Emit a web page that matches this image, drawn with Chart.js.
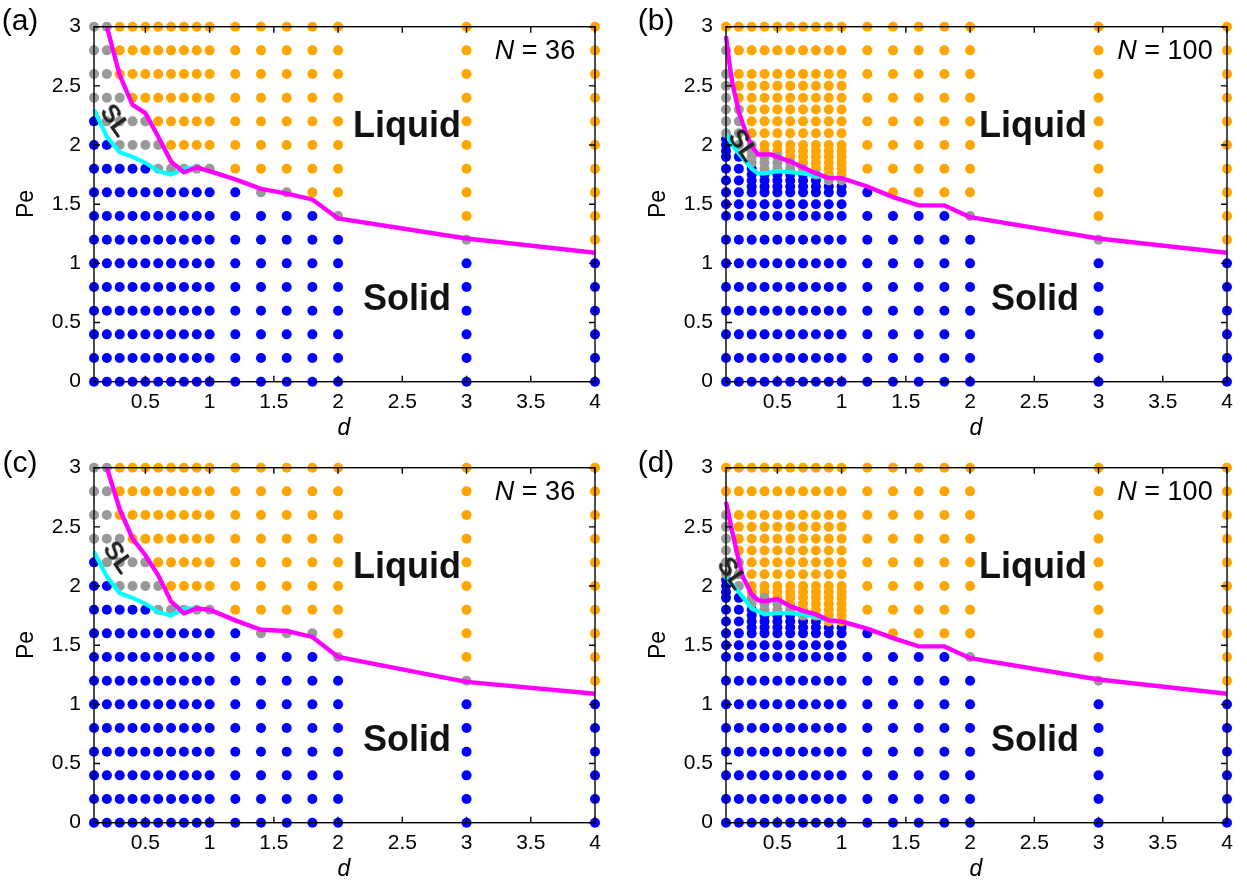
<!DOCTYPE html>
<html><head><meta charset="utf-8">
<script src="https://cdn.jsdelivr.net/npm/chart.js@4.4.1/dist/chart.umd.min.js"></script>
<style>
html,body{margin:0;padding:0;background:#fff;}
body{width:1247px;height:882px;position:relative;overflow:hidden;font-family:"Liberation Sans",Arial,sans-serif;}
.panel{position:absolute;width:620px;height:441px;}
.panel canvas{position:absolute;left:0;top:0;}
.t{position:absolute;white-space:nowrap;transform:translate(-50%,-50%);color:#000;line-height:1;z-index:5;}
.lab{font-size:30px;}
.big{font-size:36px;font-weight:bold;color:#111;}
.nn{font-size:27px;}
.ax{font-size:23px;}
.sl{font-size:26px;font-weight:bold;color:#222;}
</style></head><body>
<div class="panel" id="pa" style="left:0;top:0"><canvas id="ca" width="620" height="441"></canvas></div>
<div class="panel" id="pb" style="left:632px;top:0"><canvas id="cb" width="620" height="441"></canvas></div>
<div class="panel" id="pc" style="left:0;top:441px"><canvas id="cc" width="620" height="441"></canvas></div>
<div class="panel" id="pd" style="left:632px;top:441px"><canvas id="cd" width="620" height="441"></canvas></div>

<div class="t lab" style="left:20px;top:20px">(a)</div>
<div class="t lab" style="left:656px;top:20px">(b)</div>
<div class="t lab" style="left:20px;top:462px">(c)</div>
<div class="t lab" style="left:656px;top:462px">(d)</div>

<div class="t ax" style="left:25px;top:204px;transform:translate(-50%,-50%) rotate(-90deg)">Pe</div>
<div class="t ax" style="left:657px;top:204px;transform:translate(-50%,-50%) rotate(-90deg)">Pe</div>
<div class="t ax" style="left:25px;top:645px;transform:translate(-50%,-50%) rotate(-90deg)">Pe</div>
<div class="t ax" style="left:657px;top:645px;transform:translate(-50%,-50%) rotate(-90deg)">Pe</div>

<div class="t ax" style="left:344px;top:427px;font-style:italic">d</div>
<div class="t ax" style="left:976px;top:427px;font-style:italic">d</div>
<div class="t ax" style="left:344px;top:868px;font-style:italic">d</div>
<div class="t ax" style="left:976px;top:868px;font-style:italic">d</div>

<div class="t nn" style="left:535px;top:50px"><i>N</i> = 36</div>
<div class="t nn" style="left:1165px;top:50px"><i>N</i> = 100</div>
<div class="t nn" style="left:535px;top:491px"><i>N</i> = 36</div>
<div class="t nn" style="left:1165px;top:491px"><i>N</i> = 100</div>

<div class="t big" style="left:407px;top:125px">Liquid</div>
<div class="t big" style="left:407px;top:298px">Solid</div>
<div class="t big" style="left:1033px;top:125px">Liquid</div>
<div class="t big" style="left:1035px;top:298px">Solid</div>
<div class="t big" style="left:407px;top:566px">Liquid</div>
<div class="t big" style="left:407px;top:739px">Solid</div>
<div class="t big" style="left:1033px;top:566px">Liquid</div>
<div class="t big" style="left:1035px;top:739px">Solid</div>

<div class="t sl" style="left:116px;top:120px;transform:translate(-50%,-50%) rotate(55deg)">SL</div>
<div class="t sl" style="left:744px;top:145px;transform:translate(-50%,-50%) rotate(55deg)">SL</div>
<div class="t sl" style="left:119px;top:557px;transform:translate(-50%,-50%) rotate(55deg)">SL</div>
<div class="t sl" style="left:733px;top:573px;transform:translate(-50%,-50%) rotate(55deg)">SL</div>

<script>
// ---- grid of simulated points ----
const dCols = [0.1,0.2,0.3,0.4,0.5,0.6,0.7,0.8,0.9,1.0,1.2,1.4,1.6,1.8,2.0,3.0,4.0];
const peRows = [0,0.2,0.4,0.6,0.8,1.0,1.2,1.4,1.6,1.8,2.0,2.2,2.4,2.6,2.8,3.0];
const peRowsFine = [0,0.2,0.4,0.6,0.8,1.0,1.2,1.4,1.5,1.6,1.65,1.7,1.75,1.8,1.85,1.9,1.95,2.0,2.05,2.1,2.2,2.3,2.4,2.5,2.6,2.8,3.0];
const xTickLabels = [0.5,1,1.5,2,2.5,3,3.5,4];
const yTickLabels = [0,0.5,1,1.5,2,2.5,3];

// status per column (B = solid, G = solid-liquid, O = liquid, - = no run), rows from Pe=0 upward
const statusA = [
 "BBBBBBBBBBBBGGGG","BBBBBBBBBBBGGGGG","BBBBBBBBBBGGGOOO","BBBBBBBBBBGGOOOO","BBBBBBBBBBGGOOOO",
 "BBBBBBBBBGGOOOOO","BBBBBBBBBGOOOOOO","BBBBBBBBBGOOOOOO","BBBBBBBBBGOOOOOO","BBBBBBBBBGOOOOOO",
 "BBBBBBBBBOOOOOOO","BBBBBBBBGOOOOOOO","BBBBBBBBGOOOOOOO","BBBBBBBBOOOOOOOO","BBBBBBBGOOOOOOOO",
 "BBBBBBGOOOOOOOOO","BBBBBBOOOOOOOOOO"];
const statusC = [
 "BBBBBBBBBBBBGGGG","BBBBBBBBBBBGGGGG","BBBBBBBBBBGGGOOO","BBBBBBBBBBGGOOOO","BBBBBBBBBBGGOOOO",
 "BBBBBBBBBGGOOOOO","BBBBBBBBBGOOOOOO","BBBBBBBBBGOOOOOO","BBBBBBBBBGOOOOOO","BBBBBBBBBGOOOOOO",
 "BBBBBBBBBOOOOOOO","BBBBBBBBGOOOOOOO","BBBBBBBBGOOOOOOO","BBBBBBBBGOOOOOOO","BBBBBBBGOOOOOOOO",
 "BBBBBBGOOOOOOOOO","BBBBBBOOOOOOOOOO"];
// N = 100: columns d <= 1 use peRowsFine, the others use peRows
const statusB = [
 "BBBBBBBBBB-B-B-BBBBGGGGGGGO","BBBBBBBBBB-B-B-B-G-GGGOOOOO","BBBBBBBBBBBBBBGGGG-OOOOOOOO",
 "BBBBBBBBBBBBBGGGOO-OOOOOOOO","BBBBBBBBBBBBBGGGOO-OOOOOOOO","BBBBBBBBBBBBBGGOOO-OOOOOOOO",
 "BBBBBBBBBBBBBGOOOO-OOOOOOOO","BBBBBBBBBBBBGOOOOO-OOOOOOOO","BBBBBBBBBBBGOOOOOO-OOOOOOOO",
 "BBBBBBBBBBBGOOOOOO-OOOOOOOO",
 "BBBBBBBBBOOOOOOO","BBBBBBBBOOOOOOOO","BBBBBBBBOOOOOOOO","BBBBBBBBOOOOOOOO","BBBBBBBGOOOOOOOO",
 "BBBBBBGOOOOOOOOO","BBBBBBOOOOOOOOOO"];
const statusD = [
 "BBBBBBBBBB-B-B-BBBBGGGGGGOO","BBBBBBBBBB-B-B-B-G-GGOOOOOO","BBBBBBBBBBBBBBGGOO-OOOOOOOO",
 "BBBBBBBBBBBBBGGGOO-OOOOOOOO","BBBBBBBBBBBBBGGOOO-OOOOOOOO","BBBBBBBBBBBBBGOOOO-OOOOOOOO",
 "BBBBBBBBBBBBGOOOOO-OOOOOOOO","BBBBBBBBBBBBOOOOOO-OOOOOOOO","BBBBBBBBBBBOOOOOOO-OOOOOOOO",
 "BBBBBBBBBBBOOOOOOO-OOOOOOOO",
 "BBBBBBBBBOOOOOOO","BBBBBBBBOOOOOOOO","BBBBBBBBOOOOOOOO","BBBBBBBBOOOOOOOO","BBBBBBBGOOOOOOOO",
 "BBBBBBGOOOOOOOOO","BBBBBBOOOOOOOOOO"];

// ---- boundary lines ----
const magA_d  = [0.2,0.3,0.4,0.5,0.6,0.7,0.8,0.9,1.0,1.2,1.4,1.6,1.8,2.0,3.0,4.0];
const magA_pe = [3.0,2.59,2.34,2.27,2.07,1.86,1.77,1.81,1.78,1.71,1.63,1.59,1.54,1.38,1.21,1.09];
const cyaA_d  = [0.1,0.2,0.3,0.4,0.5,0.6,0.7,0.8,0.9];
const cyaA_pe = [2.30,2.07,1.94,1.90,1.85,1.78,1.75,1.80,1.81];
const magC_d  = [0.2,0.3,0.4,0.5,0.6,0.7,0.8,0.9,1.0,1.2,1.4,1.6,1.8,2.0,3.0,4.0];
const magC_pe = [3.0,2.65,2.40,2.26,2.09,1.87,1.77,1.81,1.80,1.71,1.63,1.62,1.57,1.40,1.19,1.09];
const cyaC_d  = [0.1,0.2,0.3,0.4,0.5,0.6,0.7,0.8,0.9];
const cyaC_pe = [2.29,2.08,1.94,1.90,1.85,1.78,1.75,1.81,1.81];
const magB_d  = [0.1,0.125,0.15,0.2,0.25,0.3,0.35,0.45,0.5,0.6,0.7,0.8,0.9,1.0,1.2,1.4,1.6,1.8,2.0,3.0,4.0];
const magB_pe = [2.92,2.70,2.52,2.28,2.12,1.99,1.92,1.92,1.90,1.86,1.81,1.76,1.72,1.72,1.65,1.56,1.49,1.49,1.39,1.21,1.09];
const cyaB_d  = [0.1,0.15,0.2,0.3,0.35,0.4,0.5,0.6,0.7,0.8,0.9,1.0];
const cyaB_pe = [2.09,2.00,1.93,1.80,1.76,1.76,1.78,1.77,1.76,1.74,1.73,1.72];
const magD_d  = [0.1,0.15,0.19,0.23,0.3,0.35,0.4,0.5,0.6,0.7,0.8,0.9,1.0,1.2,1.4,1.6,1.8,2.0,3.0,4.0];
const magD_pe = [2.71,2.45,2.26,2.08,1.93,1.88,1.87,1.89,1.83,1.79,1.76,1.71,1.70,1.64,1.56,1.49,1.49,1.39,1.21,1.09];
const cyaD_d  = [0.1,0.2,0.3,0.4,0.5,0.6,0.7,0.8,0.9,1.0];
const cyaD_pe = [2.07,1.95,1.81,1.76,1.77,1.77,1.76,1.74,1.71,1.70];

const COL = {B:'#0000ff', G:'#999999', O:'#ffa500'};

function pointsFrom(status, fine){
  const g = {B:[],G:[],O:[]};
  dCols.forEach((d,i)=>{
    const rows = (fine && d <= 1.0) ? peRowsFine : peRows;
    const s = status[i];
    for(let j=0;j<rows.length;j++){
      const c = s[j];
      if(c && g[c]) g[c].push({x:d, y:rows[j]});
    }
  });
  return g;
}
function zip(a,b){ return a.map((v,i)=>({x:v,y:b[i]})); }

const framePlugin = {
  id:'frame',
  afterDatasetsDraw(chart){
    const {ctx, chartArea:{left,right,top,bottom}, scales:{x,y}} = chart;
    ctx.save();
    ctx.strokeStyle='#000'; ctx.lineWidth=1.4;
    ctx.strokeRect(left,top,right-left,bottom-top);
    const L=6;
    ctx.beginPath();
    xTickLabels.forEach(v=>{const px=x.getPixelForValue(v);
      ctx.moveTo(px,bottom); ctx.lineTo(px,bottom-L); ctx.moveTo(px,top); ctx.lineTo(px,top+L);});
    yTickLabels.forEach(v=>{const py=y.getPixelForValue(v);
      ctx.moveTo(left,py); ctx.lineTo(left+L,py); ctx.moveTo(right,py); ctx.lineTo(right-L,py);});
    ctx.stroke();
    ctx.restore();
  }
};

function makeChart(id, status, fine, magD, magP, cyaD, cyaP){
  const g = pointsFrom(status, fine);
  const pt = (data,c)=>({type:'scatter', data, backgroundColor:c, borderWidth:0, pointRadius:5, pointHoverRadius:5, clip:false});
  new Chart(document.getElementById(id), {
    type:'scatter',
    data:{datasets:[
      {type:'line', data:zip(magD,magP), borderColor:'#ff00ff', borderWidth:4.4, pointRadius:0, fill:false, tension:0, clip:false},
      {type:'line', data:zip(cyaD,cyaP), borderColor:'#00ffff', borderWidth:4.2, pointRadius:0, fill:false, tension:0, clip:false},
      pt(g.G, COL.G), pt(g.O, COL.O), pt(g.B, COL.B)
    ]},
    options:{
      responsive:false, animation:false, events:[],
      layout:{padding:{left:0,right:25,top:26.7,bottom:0}},
      plugins:{legend:{display:false}, tooltip:{enabled:false}},
      scales:{
        x:{type:'linear', min:0.1, max:4,
           afterBuildTicks:s=>{s.ticks=xTickLabels.map(v=>({value:v}));},
           afterFit:s=>{s.height=59.3;},
           grid:{display:false, drawTicks:false}, border:{display:false},
           ticks:{color:'#000', font:{family:'Liberation Sans', size:21}, padding:8, maxRotation:0, autoSkip:false, callback:v=>String(v)}},
        y:{type:'linear', min:0, max:3,
           afterBuildTicks:s=>{s.ticks=yTickLabels.map(v=>({value:v}));},
           afterFit:s=>{s.width=94;},
           grid:{display:false, drawTicks:false}, border:{display:false},
           ticks:{color:'#000', font:{family:'Liberation Sans', size:21}, padding:13, autoSkip:false, callback:v=>String(v)}}
      }
    },
    plugins:[framePlugin]
  });
}
makeChart('ca', statusA, false, magA_d, magA_pe, cyaA_d, cyaA_pe);
makeChart('cb', statusB, true,  magB_d, magB_pe, cyaB_d, cyaB_pe);
makeChart('cc', statusC, false, magC_d, magC_pe, cyaC_d, cyaC_pe);
makeChart('cd', statusD, true,  magD_d, magD_pe, cyaD_d, cyaD_pe);
</script>
</body></html>
